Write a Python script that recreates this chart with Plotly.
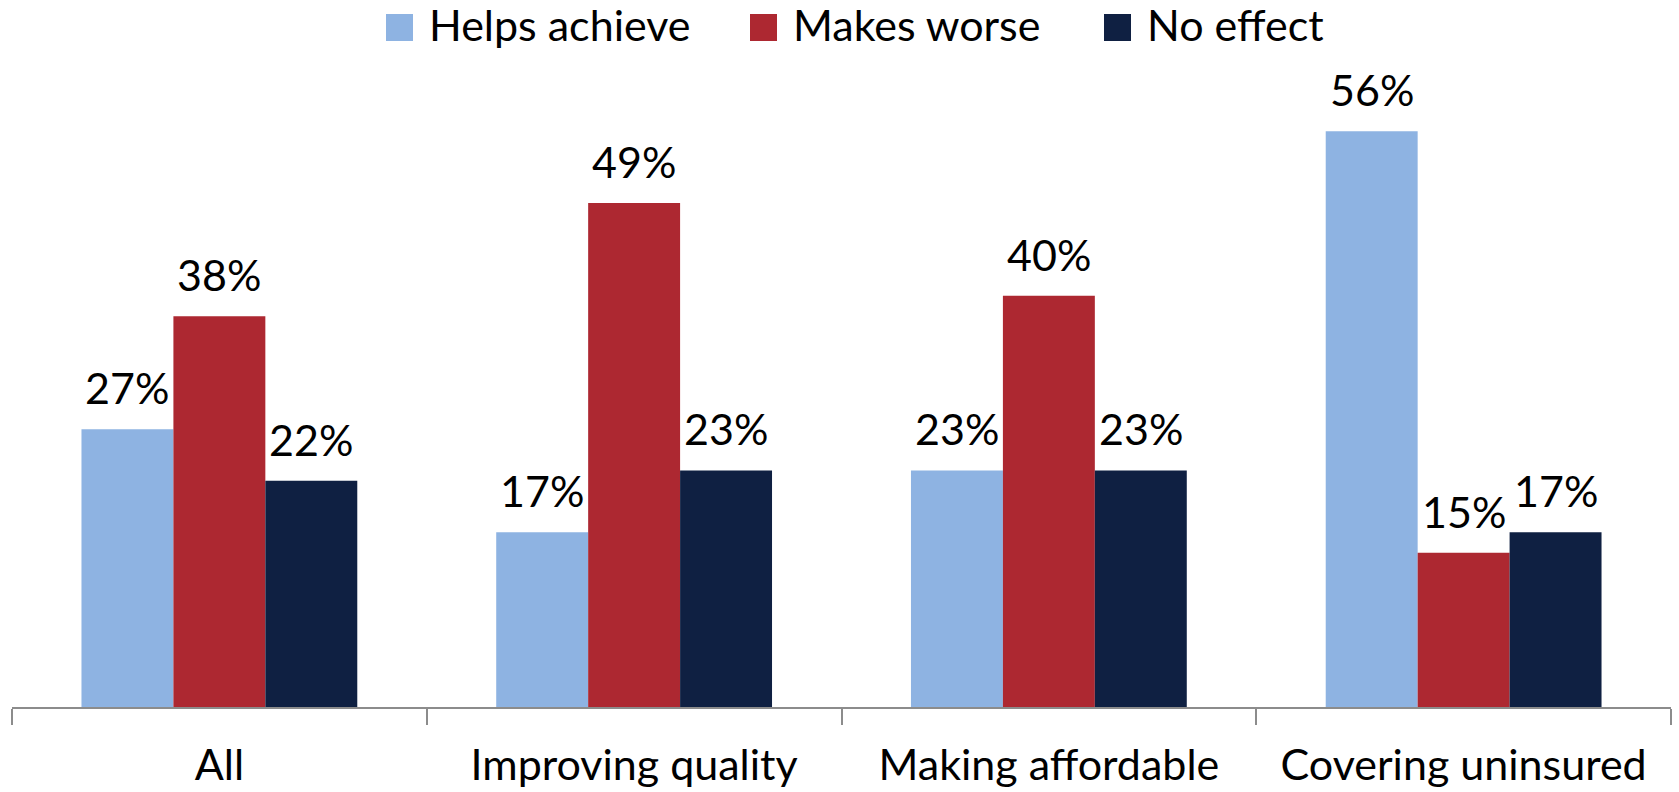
import plotly.graph_objects as go

# Survey results: share of respondents by perceived effect of the law
categories = ["All", "Improving quality", "Making affordable", "Covering uninsured"]
series_names = ["Helps achieve", "Makes worse", "No effect"]
helps_achieve = [27, 17, 23, 56]
makes_worse = [38, 49, 40, 15]
no_effect = [22, 23, 23, 17]

colors = ["#8EB3E2", "#AD2831", "#0F2042"]
series_values = [helps_achieve, makes_worse, no_effect]

FONT = "Lato"
W, H = 1679, 792
L, R, T, B = 12, 8, 90, 85
PLOT_W = W - L - R
PLOT_H = H - T - B
BARGAP = 0.335


def px_x(px):
    return (px - L) / PLOT_W


def px_y(py):
    return (H - B - py) / PLOT_H


fig = go.Figure()
for name, vals, col in zip(series_names, series_values, colors):
    fig.add_trace(go.Bar(
        name=name, x=categories, y=vals, marker=dict(color=col, line=dict(width=0)),
        showlegend=False, hoverinfo="skip",
    ))

# value labels above each bar
bar_w = (1 - BARGAP) / len(series_names)
annotations = []
for k, vals in enumerate(series_values):
    for i, v in enumerate(vals):
        annotations.append(dict(
            x=i + (k - 1) * bar_w, y=v, xref="x", yref="y",
            text=f"{v}%", showarrow=False, yanchor="bottom", xanchor="center",
            yshift=14, font=dict(family=FONT, size=43, color="#000000"),
        ))

# legend drawn as swatches plus labels across the top
swatch_left = [386, 750, 1104]
shapes = []
for sx, name, col in zip(swatch_left, series_names, colors):
    shapes.append(dict(
        type="rect", xref="paper", yref="paper",
        x0=px_x(sx), x1=px_x(sx + 27), y0=px_y(41), y1=px_y(14),
        fillcolor=col, line=dict(width=0),
    ))
    annotations.append(dict(
        x=px_x(sx + 41), y=px_y(25), xref="paper", yref="paper",
        text=name, showarrow=False, xanchor="left", yanchor="middle",
        font=dict(family=FONT, size=43, color="#000000"),
    ))

fig.update_layout(
    width=W, height=H,
    margin=dict(l=L, r=R, t=T, b=B),
    paper_bgcolor="white", plot_bgcolor="white",
    barmode="group", bargap=BARGAP, bargroupgap=0,
    annotations=annotations, shapes=shapes,
    font=dict(family=FONT, color="#000000"),
    xaxis=dict(
        type="category", showline=True, linecolor="#8c8c8c", linewidth=1.5,
        ticks="outside", tickson="boundaries", ticklen=16, tickwidth=1.5,
        tickcolor="#8c8c8c", tickfont=dict(family=FONT, size=43, color="#000000"),
        ticklabelstandoff=20, automargin=False,
        showgrid=False, zeroline=False,
    ),
    yaxis=dict(
        range=[0, 60], visible=False, showgrid=False, zeroline=False,
    ),
)

fig.write_html("out.html")
